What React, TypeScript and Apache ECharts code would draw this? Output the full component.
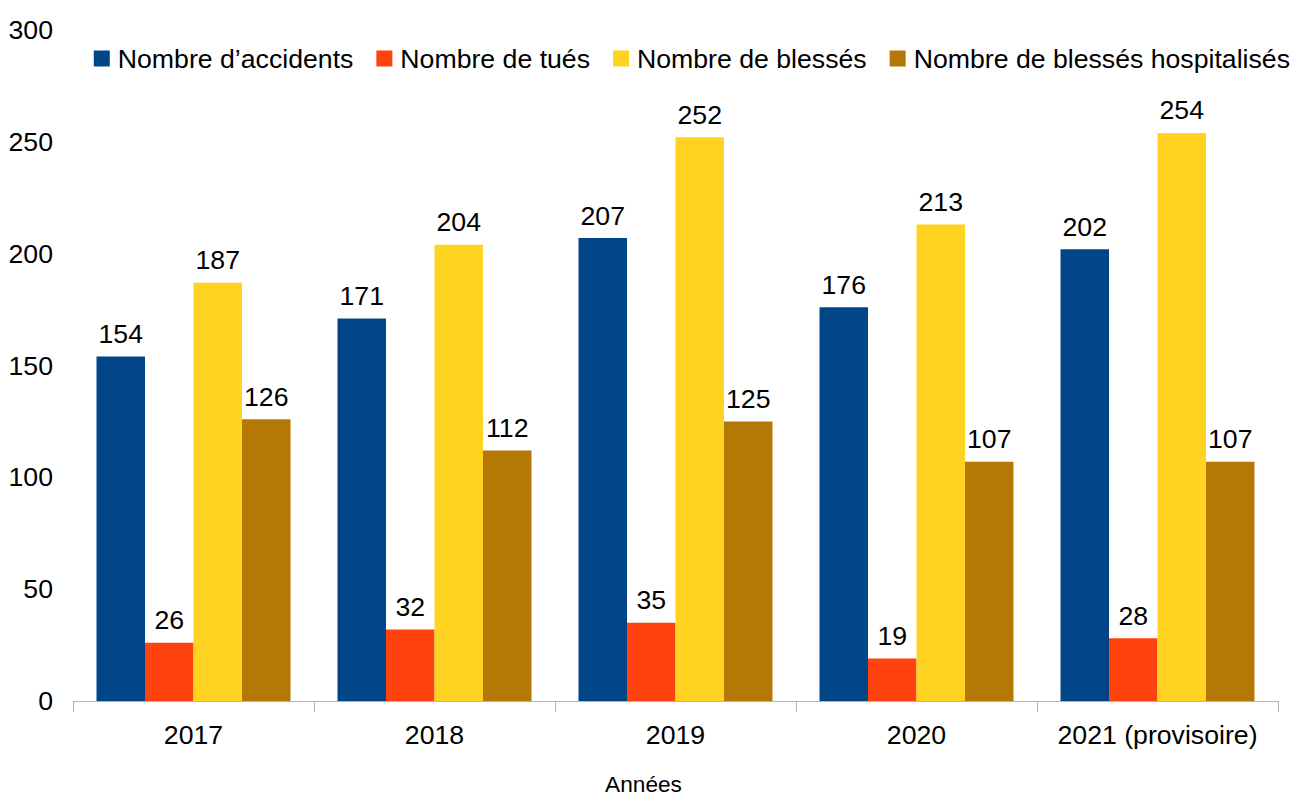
import React, { useEffect, useRef } from "react";
import * as echarts from "echarts";

const categories = ["2017", "2018", "2019", "2020", "2021 (provisoire)"];
const seriesNames = [
  "Nombre d’accidents",
  "Nombre de tués",
  "Nombre de blessés",
  "Nombre de blessés hospitalisés",
];
const accidents = [154, 171, 207, 176, 202];
const tues = [26, 32, 35, 19, 28];
const blesses = [187, 204, 252, 213, 254];
const hospitalises = [126, 112, 125, 107, 107];
const colors = ["#004586", "#ff420e", "#ffd320", "#b47804"];
const xAxisTitle = "Années";

const FONT = "Liberation Sans, Arial, sans-serif";
const FS = 26.67;

export default function App() {
  const ref = useRef<HTMLDivElement>(null);
  useEffect(() => {
    if (!ref.current) return;
    const chart = echarts.init(ref.current, null, { renderer: "svg" });
    const values = [accidents, tues, blesses, hospitalises];
    chart.setOption({
      animation: false,
      textStyle: { fontFamily: FONT },
      legend: {
        top: 45,
        right: 5,
        padding: 0,
        itemWidth: 16,
        itemHeight: 16,
        itemGap: 23,
        icon: "rect",
        textStyle: { fontSize: FS, color: "#000", fontFamily: FONT, padding: [0, 0, 0, 3] },
        data: seriesNames,
      },
      grid: { left: 73, right: 17, top: 30, bottom: 95, containLabel: false, outerBoundsMode: "none" },
      graphic: [
        {
          type: "text",
          x: 643.5,
          y: 795,
          style: {
            text: xAxisTitle,
            fontSize: 22.67,
            fontFamily: FONT,
            fill: "#000",
            textAlign: "center",
            textVerticalAlign: "bottom",
          },
        },
      ],
      xAxis: {
        type: "category",
        data: categories,
        axisLine: { show: true, lineStyle: { color: "#b3b3b3", width: 1 } },
        axisTick: { show: true, interval: 0, length: 11, lineStyle: { color: "#b3b3b3" } },
        axisLabel: { interval: 0, fontSize: FS, color: "#000", margin: 20, fontFamily: FONT },
      },
      yAxis: {
        type: "value",
        min: 0,
        max: 300,
        interval: 50,
        splitLine: { show: false },
        axisLine: { show: false },
        axisTick: { show: false },
        axisLabel: { fontSize: FS, color: "#000", margin: 20, fontFamily: FONT },
      },
      series: seriesNames.map((name, i) => ({
        name,
        type: "bar",
        data: values[i],
        barGap: "0%",
        barCategoryGap: "19.5%",
        itemStyle: { color: colors[i] },
        label: {
          show: true,
          position: "top",
          distance: 9,
          fontSize: FS,
          color: "#000",
          fontFamily: FONT,
        },
      })),
    });
    return () => chart.dispose();
  }, []);
  return (
    <div
      ref={ref}
      style={{ position: "absolute", left: 0, top: 0, width: 1295, height: 796 }}
    />
  );
}
